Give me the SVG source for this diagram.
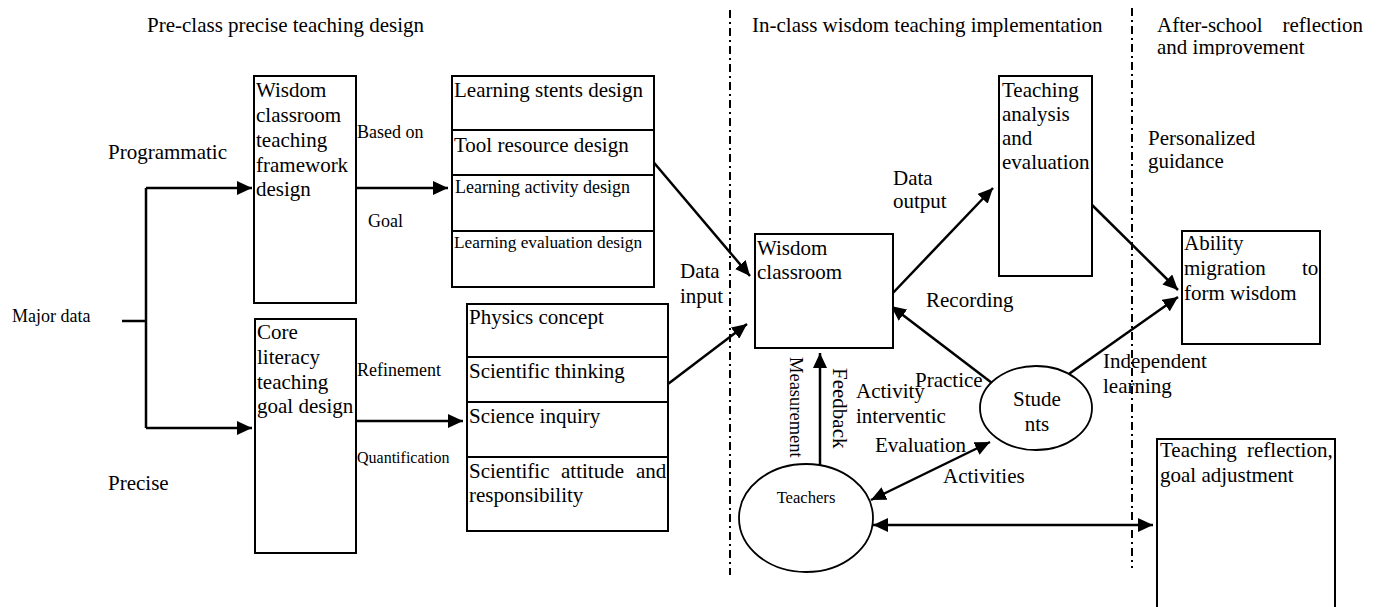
<svg xmlns="http://www.w3.org/2000/svg" width="1379" height="607" viewBox="0 0 1379 607">
<style>
text{font-family:"Liberation Serif","Times New Roman",serif;fill:#000}
.t21{font-size:21px}
.t18{font-size:18px}
.t17{font-size:17.3px}
.t16{font-size:16px}
.box{fill:#fff;stroke:#000;stroke-width:2}
.ell{fill:#fff;stroke:#000;stroke-width:1.8}
.ln{fill:none;stroke:#000;stroke-width:2.5}
.arr{fill:none;stroke:#000;stroke-width:2.5;marker-end:url(#ah)}
.dbl{fill:none;stroke:#000;stroke-width:2.5;marker-end:url(#ah);marker-start:url(#ahs)}
.sep{fill:none;stroke:#000;stroke-width:2;stroke-dasharray:8 4 2 4}
</style>
<defs>
<marker id="ah" markerUnits="userSpaceOnUse" markerWidth="16" markerHeight="14" refX="15" refY="7" orient="auto">
<path d="M0,0 L15,7 L0,14 z" fill="#000"/>
</marker>
<marker id="ahs" markerUnits="userSpaceOnUse" markerWidth="16" markerHeight="14" refX="15" refY="7" orient="auto-start-reverse">
<path d="M0,0 L15,7 L0,14 z" fill="#000"/>
</marker>
<clipPath id="clipTop"><rect x="1100" y="0" width="279" height="55.5"/></clipPath>
</defs>

<g id="titles">
<text class="t21" x="147" y="32">Pre-class precise teaching design</text>
<text class="t21" x="752" y="32">In-class wisdom teaching implementation</text>
<text class="t21" x="1157" y="32">After-school</text>
<text class="t21" x="1363" y="32" text-anchor="end">reflection</text>
<text class="t21" x="1157" y="54" clip-path="url(#clipTop)">and improvement</text>
</g>

<g id="separators">
<path class="sep" d="M730,10 V575"/>
<path class="sep" d="M1132,8 V568"/>
</g>

<g id="connectors">
<path class="ln" d="M122,321 H146 M146,188 V428"/>
<path class="arr" d="M146,188 H252"/>
<path class="arr" d="M146,428 H252"/>
<path class="arr" d="M350,188 H448"/>
<path class="arr" d="M350,421 H463"/>
<path class="arr" d="M650,158 L750,276"/>
<path class="arr" d="M664,387 L747,324"/>
<path class="arr" d="M891,295 L993,188"/>
<path class="arr" d="M992,383 L891,306"/>
<path class="arr" d="M1088,201 L1178,290"/>
<path class="arr" d="M1066,376 L1178,297"/>
<path class="arr" d="M820,467 V353"/>
<path class="dbl" d="M871,500 L990,442"/>
<path class="dbl" d="M873,525 H1153"/>
</g>

<g id="labels">
<text class="t18" x="12" y="322">Major data</text>
<text class="t21" x="108" y="159">Programmatic</text>
<text class="t21" x="108" y="490">Precise</text>
<text class="t18" x="357" y="138">Based on</text>
<text class="t18" x="368" y="227">Goal</text>
<text class="t18" x="357" y="376">Refinement</text>
<text class="t16" x="357" y="463">Quantification</text>
<text class="t21" x="680" y="278">Data</text>
<text class="t21" x="680" y="303">input</text>
<text class="t21" x="893" y="185">Data</text>
<text class="t21" x="893" y="208">output</text>
<text class="t21" x="926" y="307">Recording</text>
<text class="t21" x="1148" y="145">Personalized</text>
<text class="t21" x="1148" y="168">guidance</text>
<text class="t21" x="1103" y="368">Independent</text>
<text class="t21" x="1103" y="393">learning</text>
<text class="t21" x="856" y="398">Activity</text>
<text class="t21" x="856" y="423">interventic</text>
<text class="t21" x="915" y="387">Practice</text>
<text class="t21" x="875" y="452">Evaluation</text>
<text class="t21" x="943" y="483">Activities</text>
<text class="t18" transform="translate(790,357) rotate(90)" style="font-size:18.5px">Measurement</text>
<text class="t21" transform="translate(833,368) rotate(90)">Feedback</text>
</g>

<g id="framework">
<rect class="box" x="254" y="76" width="102" height="227"/>
<text class="t21" x="256"><tspan x="256" y="97">Wisdom</tspan><tspan x="256" y="122">classroom</tspan><tspan x="256" y="147">teaching</tspan><tspan x="256" y="172">framework</tspan><tspan x="256" y="196">design</tspan></text>
</g>

<g id="coreliteracy">
<rect class="box" x="255" y="319" width="101" height="234"/>
<text class="t21"><tspan x="257" y="339">Core</tspan><tspan x="257" y="364">literacy</tspan><tspan x="257" y="389">teaching</tspan><tspan x="257" y="413">goal design</tspan></text>
</g>

<g id="learning">
<rect class="box" x="452" y="76" width="202" height="211"/>
<path class="ln" style="stroke-width:2" d="M452,130 H654 M452,175 H654 M452,231 H654"/>
<text class="t21" x="454" y="97">Learning stents design</text>
<text class="t21" x="454" y="152">Tool resource design</text>
<text class="t18" x="455" y="193">Learning activity design</text>
<text class="t17" x="454" y="248">Learning evaluation design</text>
</g>

<g id="physics">
<rect class="box" x="467" y="304" width="201" height="227"/>
<path class="ln" style="stroke-width:2" d="M467,357 H668 M467,402 H668 M467,457 H668"/>
<text class="t21" x="469" y="324">Physics concept</text>
<text class="t21" x="469" y="378">Scientific thinking</text>
<text class="t21" x="469" y="423">Science inquiry</text>
<text class="t21" y="478"><tspan x="469">Scientific</tspan><tspan x="561">attitude</tspan><tspan x="636">and</tspan></text>
<text class="t21" x="469" y="502">responsibility</text>
</g>

<g id="wisdomclassroom">
<rect class="box" x="755" y="234" width="138" height="114"/>
<text class="t21"><tspan x="757" y="255">Wisdom</tspan><tspan x="757" y="279">classroom</tspan></text>
</g>

<g id="analysis">
<rect class="box" x="999" y="76" width="93" height="200"/>
<text class="t21"><tspan x="1002" y="97">Teaching</tspan><tspan x="1002" y="121">analysis</tspan><tspan x="1002" y="145">and</tspan><tspan x="1002" y="169">evaluation</tspan></text>
</g>

<g id="ability">
<rect class="box" x="1182" y="231" width="138" height="113"/>
<text class="t21" x="1184" y="250">Ability</text>
<text class="t21" y="275"><tspan x="1184">migration</tspan><tspan x="1302">to</tspan></text>
<text class="t21" x="1184" y="300">form wisdom</text>
</g>

<g id="reflection">
<rect class="box" x="1157" y="439" width="178" height="180"/>
<text class="t21" y="457"><tspan x="1160">Teaching</tspan><tspan x="1247">reflection,</tspan></text>
<text class="t21" x="1160" y="482">goal adjustment</text>
</g>

<g id="students">
<ellipse class="ell" cx="1036" cy="408" rx="56" ry="42"/>
<text class="t21" x="1037" y="406" text-anchor="middle">Stude</text>
<text class="t21" x="1037" y="431" text-anchor="middle">nts</text>
</g>

<g id="teachers">
<ellipse class="ell" cx="806" cy="518" rx="67" ry="54"/>
<text class="t16" x="806" y="503" text-anchor="middle" style="font-size:16.6px">Teachers</text>
</g>
</svg>
